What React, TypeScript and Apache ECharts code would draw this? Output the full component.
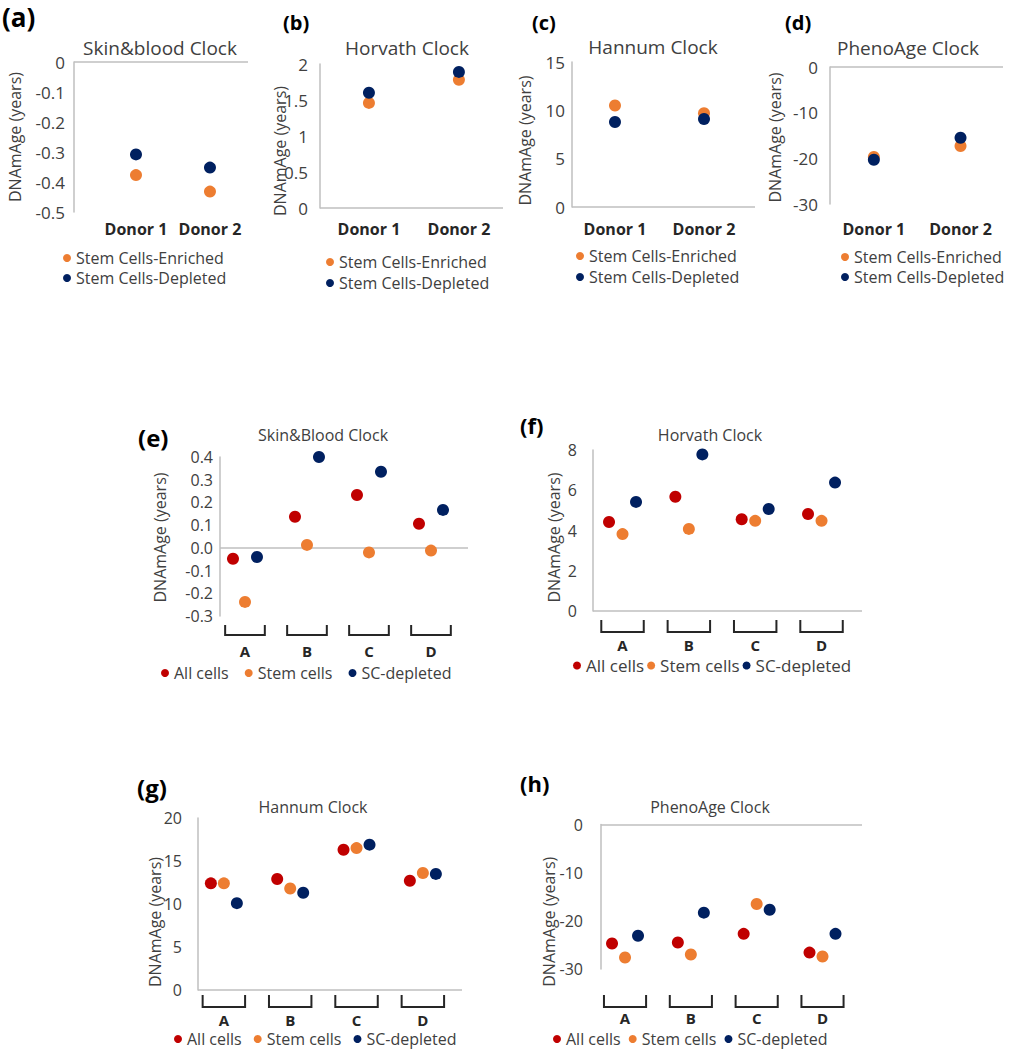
import React, { useEffect, useRef } from 'react';
import * as echarts from 'echarts';

const FONT = '"Open Sans", "Liberation Sans", sans-serif';
const ORANGE = '#ED7D31';
const NAVY = '#002060';
const RED = '#C00000';
const TEXT = '#404040';
const AXIS = '#BFBFBF';

// ---- top row: two donors, two fractions ----
const donors = ['Donor 1', 'Donor 2'];
const topNames = ['Stem Cells-Enriched', 'Stem Cells-Depleted'];
const skinBloodEnriched = [-0.377, -0.432];
const skinBloodDepleted = [-0.308, -0.352];
const horvathEnriched = [1.46, 1.78];
const horvathDepleted = [1.6, 1.89];
const hannumEnriched = [10.5, 9.7];
const hannumDepleted = [8.8, 9.1];
const phenoEnriched = [-19.7, -17.3];
const phenoDepleted = [-20.3, -15.5];

// ---- bottom panels: four groups, three fractions ----
const groups = ['A', 'B', 'C', 'D'];
const bottomNames = ['All cells', 'Stem cells', 'SC-depleted'];
const sbAll = [-0.048, 0.137, 0.233, 0.106];
const sbStem = [-0.238, 0.013, -0.02, -0.012];
const sbDepleted = [-0.04, 0.4, 0.335, 0.167];
const hvAll = [4.42, 5.68, 4.56, 4.82];
const hvStem = [3.82, 4.08, 4.48, 4.48];
const hvDepleted = [5.42, 7.78, 5.07, 6.38];
const hnAll = [12.4, 12.9, 16.3, 12.7];
const hnStem = [12.4, 11.8, 16.5, 13.6];
const hnDepleted = [10.1, 11.3, 16.9, 13.5];
const pnAll = [-24.7, -24.5, -22.7, -26.6];
const pnStem = [-27.6, -27.0, -16.5, -27.4];
const pnDepleted = [-23.1, -18.3, -17.7, -22.7];

type Panel = {
  tag: string; tagX: number; tagY: number; tagSize: number;
  title: string; titleX: number; titleY: number; titleSize: number;
  left: number; top: number; width: number; height: number;
  xMin: number; xMax: number; yMin: number; yMax: number; yStep: number;
  yFmt?: (v: number) => string;
  labelMargin: number; xLabelMargin: number; nameGap: number; nameShift: number;
  fontSize: number;
  cats: string[]; names: string[]; colors: string[]; values: number[][];
  offset: number;
  brackets: boolean; bracketGap: number; bracketH: number;
  legendLeft: number; legendTop: number; legendGap: number; legendOrient: 'vertical' | 'horizontal';
  legendSize: number;
};

const topColors = [ORANGE, NAVY];
const bottomColors = [RED, ORANGE, NAVY];

const panels: Panel[] = [
  {
    tag: '(a)', tagX: 2, tagY: 17, tagSize: 26, title: 'Skin&blood Clock', titleX: 160, titleY: 48, titleSize: 19,
    left: 74, top: 62, width: 174, height: 150, xMin: -0.838, xMax: 1.514, yMin: -0.5, yMax: 0, yStep: 0.1,
    yFmt: (v) => (Math.abs(v) < 1e-9 ? '0' : v.toFixed(1)),
    labelMargin: 9, xLabelMargin: 8, nameGap: 51, nameShift: 0, fontSize: 17,
    cats: donors, names: topNames, colors: topColors, values: [skinBloodEnriched, skinBloodDepleted], offset: 0,
    brackets: false, bracketGap: 0, bracketH: 0,
    legendLeft: 63, legendTop: 250, legendGap: 4, legendOrient: 'vertical', legendSize: 16,
  },
  {
    tag: '(b)', tagX: 283, tagY: 22, tagSize: 20, title: 'Horvath Clock', titleX: 407, titleY: 48, titleSize: 19,
    left: 320, top: 64, width: 183, height: 144, xMin: -0.544, xMax: 1.49, yMin: 0, yMax: 2, yStep: 0.5,
    labelMargin: 12, xLabelMargin: 12, nameGap: 32, nameShift: 15, fontSize: 17,
    cats: donors, names: topNames, colors: topColors, values: [horvathEnriched, horvathDepleted], offset: 0,
    brackets: false, bracketGap: 0, bracketH: 0,
    legendLeft: 326, legendTop: 254, legendGap: 5, legendOrient: 'vertical', legendSize: 16,
  },
  {
    tag: '(c)', tagX: 532, tagY: 22, tagSize: 20, title: 'Hannum Clock', titleX: 653, titleY: 47, titleSize: 19,
    left: 572, top: 62, width: 183, height: 145, xMin: -0.483, xMax: 1.573, yMin: 0, yMax: 15, yStep: 5,
    labelMargin: 7, xLabelMargin: 13, nameGap: 39, nameShift: 6, fontSize: 17,
    cats: donors, names: topNames, colors: topColors, values: [hannumEnriched, hannumDepleted], offset: 0,
    brackets: false, bracketGap: 0, bracketH: 0,
    legendLeft: 576, legendTop: 248, legendGap: 5, legendOrient: 'vertical', legendSize: 16,
  },
  {
    tag: '(d)', tagX: 785, tagY: 22, tagSize: 20, title: 'PhenoAge Clock', titleX: 908, titleY: 48, titleSize: 19,
    left: 830, top: 67, width: 173, height: 137, xMin: -0.506, xMax: 1.49, yMin: -30, yMax: 0, yStep: 10,
    labelMargin: 12, xLabelMargin: 16, nameGap: 47, nameShift: 2, fontSize: 17,
    cats: donors, names: topNames, colors: topColors, values: [phenoEnriched, phenoDepleted], offset: 0,
    brackets: false, bracketGap: 0, bracketH: 0,
    legendLeft: 841, legendTop: 249, legendGap: 4, legendOrient: 'vertical', legendSize: 16,
  },
  {
    tag: '(e)', tagX: 138, tagY: 437, tagSize: 24, title: 'Skin&Blood Clock', titleX: 323, titleY: 435, titleSize: 16,
    left: 220, top: 457, width: 248, height: 159, xMin: -0.403, xMax: 3.597, yMin: -0.3, yMax: 0.4, yStep: 0.1,
    yFmt: (v) => v.toFixed(1),
    labelMargin: 7, xLabelMargin: 27, nameGap: 52, nameShift: 1, fontSize: 16,
    cats: groups, names: bottomNames, colors: bottomColors, values: [sbAll, sbStem, sbDepleted], offset: 12,
    brackets: true, bracketGap: 9, bracketH: 10,
    legendLeft: 161, legendTop: 665, legendGap: 16, legendOrient: 'horizontal', legendSize: 16,
  },
  {
    tag: '(f)', tagX: 520, tagY: 425, tagSize: 22, title: 'Horvath Clock', titleX: 710, titleY: 435, titleSize: 16,
    left: 593, top: 450, width: 269, height: 161, xMin: -0.445, xMax: 3.61, yMin: 0, yMax: 8, yStep: 2,
    labelMargin: 16, xLabelMargin: 26, nameGap: 31, nameShift: 7, fontSize: 16,
    cats: groups, names: bottomNames, colors: bottomColors, values: [hvAll, hvStem, hvDepleted], offset: 13.5,
    brackets: true, bracketGap: 9, bracketH: 12,
    legendLeft: 573, legendTop: 657, legendGap: 3, legendOrient: 'horizontal', legendSize: 17,
  },
  {
    tag: '(g)', tagX: 137, tagY: 787, tagSize: 24, title: 'Hannum Clock', titleX: 313, titleY: 807, titleSize: 16,
    left: 198, top: 818, width: 264, height: 172, xMin: -0.39, xMax: 3.59, yMin: 0, yMax: 20, yStep: 5,
    labelMargin: 16, xLabelMargin: 22, nameGap: 35, nameShift: 18, fontSize: 16,
    cats: groups, names: bottomNames, colors: bottomColors, values: [hnAll, hnStem, hnDepleted], offset: 13,
    brackets: true, bracketGap: 5, bracketH: 12,
    legendLeft: 174, legendTop: 1031, legendGap: 12, legendOrient: 'horizontal', legendSize: 16,
  },
  {
    tag: '(h)', tagX: 520, tagY: 783, tagSize: 22, title: 'PhenoAge Clock', titleX: 710, titleY: 807, titleSize: 16,
    left: 601, top: 824.5, width: 261, height: 144.5, xMin: -0.365, xMax: 3.6, yMin: -30, yMax: 0, yStep: 10,
    labelMargin: 18, xLabelMargin: 41, nameGap: 44, nameShift: 25, fontSize: 16,
    cats: groups, names: bottomNames, colors: bottomColors, values: [pnAll, pnStem, pnDepleted], offset: 13,
    brackets: true, bracketGap: 26, bracketH: 12,
    legendLeft: 553, legendTop: 1031, legendGap: 8, legendOrient: 'horizontal', legendSize: 16,
  },
];

function buildOption(): any {
  const grid: any[] = [];
  const xAxis: any[] = [];
  const yAxis: any[] = [];
  const series: any[] = [];
  const legend: any[] = [];
  const graphic: any[] = [];

  panels.forEach((p, i) => {
    grid.push({ left: p.left, top: p.top, width: p.width, height: p.height, containLabel: false, outerBoundsMode: 'none' });
    xAxis.push({
      type: 'value', gridIndex: i, min: p.xMin, max: p.xMax, position: 'bottom',
      axisLine: { show: false, onZero: false }, axisTick: { show: false }, splitLine: { show: false },
      axisLabel: {
        customValues: p.cats.map((_, j) => j),
        formatter: (v: number) => p.cats[Math.round(v)] ?? '',
        fontFamily: FONT, fontWeight: 'bold', fontSize: p.fontSize - 1, color: '#262626', margin: p.xLabelMargin,
        lineHeight: p.fontSize,
      },
    });
    yAxis.push({
      type: 'value', gridIndex: i, min: p.yMin, max: p.yMax, interval: p.yStep,
      axisLine: { show: true, onZero: false, lineStyle: { color: AXIS, width: 1.5 } },
      axisTick: { show: false }, splitLine: { show: false },
      axisLabel: {
        fontFamily: FONT, fontSize: p.fontSize, color: TEXT, margin: p.labelMargin,
        formatter: p.yFmt ? (v: number) => p.yFmt!(v) : undefined,
      },
      name: 'DNAmAge (years)', nameLocation: 'middle', nameGap: p.nameGap, nameMoveOverlap: false,
      nameTextStyle: { fontFamily: FONT, fontSize: 16, color: TEXT, padding: [0, p.nameShift * 2, 0, 0] },
    });
    p.names.forEach((name, k) => {
      const s: any = {
        type: 'scatter', name, xAxisIndex: i, yAxisIndex: i,
        data: p.values[k].map((v, j) => [j, v]),
        symbol: 'circle', symbolSize: 12,
        symbolOffset: [(k - (p.names.length - 1) / 2) * p.offset, 0],
        itemStyle: { color: p.colors[k], opacity: 1 },
        emphasis: { disabled: true }, silent: true, z: 3,
      };
      if (k === 0) {
        s.markLine = {
          silent: true, symbol: ['none', 'none'], label: { show: false }, z: 1,
          lineStyle: { color: AXIS, width: 1.5, type: 'solid' },
          emphasis: { disabled: true },
          data: [{ yAxis: 0 }],
        };
      }
      series.push(s);
    });
    if (p.brackets) {
      series.push({
        type: 'custom', name: 'brackets-' + p.tag, xAxisIndex: i, yAxisIndex: i, silent: true, clip: false, z: 2,
        data: p.cats.map((_, j) => [j, p.yMin]),
        encode: { x: 0, y: 1 },
        renderItem: (_params: any, api: any) => {
          const pt = api.coord([api.value(0), api.value(1)]);
          const band = api.size([1, 0])[0];
          const hw = band * 0.32;
          const t = pt[1] + p.bracketGap;
          const b = t + p.bracketH;
          return {
            type: 'polyline',
            shape: { points: [[pt[0] - hw, t], [pt[0] - hw, b], [pt[0] + hw, b], [pt[0] + hw, t]] },
            style: { stroke: '#262626', lineWidth: 2, fill: 'none' },
          };
        },
      });
    }
    legend.push({
      data: p.names, left: p.legendLeft, top: p.legendTop, orient: p.legendOrient,
      icon: 'circle', itemWidth: 8, itemHeight: 8, itemGap: p.legendGap, selectedMode: false,
      padding: 0,
      textStyle: { fontFamily: FONT, fontSize: p.legendSize, color: TEXT },
    });
    graphic.push({
      type: 'text', x: p.tagX, y: p.tagY,
      style: { text: p.tag, fontFamily: FONT, fontWeight: 'bold', fontSize: p.tagSize, fill: '#000',
        align: 'left', verticalAlign: 'middle', textAlign: 'left', textVerticalAlign: 'middle' },
    });
    graphic.push({
      type: 'text', x: p.titleX, y: p.titleY,
      style: { text: p.title, fontFamily: FONT, fontSize: p.titleSize, fill: TEXT,
        align: 'center', verticalAlign: 'middle', textAlign: 'center', textVerticalAlign: 'middle' },
    });
  });

  return {
    animation: false,
    backgroundColor: '#ffffff',
    textStyle: { fontFamily: FONT },
    grid, xAxis, yAxis, series, legend, graphic,
  };
}

export default function App() {
  const ref = useRef<HTMLDivElement>(null);
  useEffect(() => {
    if (!ref.current) return;
    const chart = echarts.init(ref.current, undefined, { renderer: 'svg' });
    chart.setOption(buildOption());
    return () => chart.dispose();
  }, []);
  return (
    <div
      ref={ref}
      style={{ position: 'absolute', left: 0, top: 0, width: 1011, height: 1050, background: '#fff' }}
    />
  );
}
